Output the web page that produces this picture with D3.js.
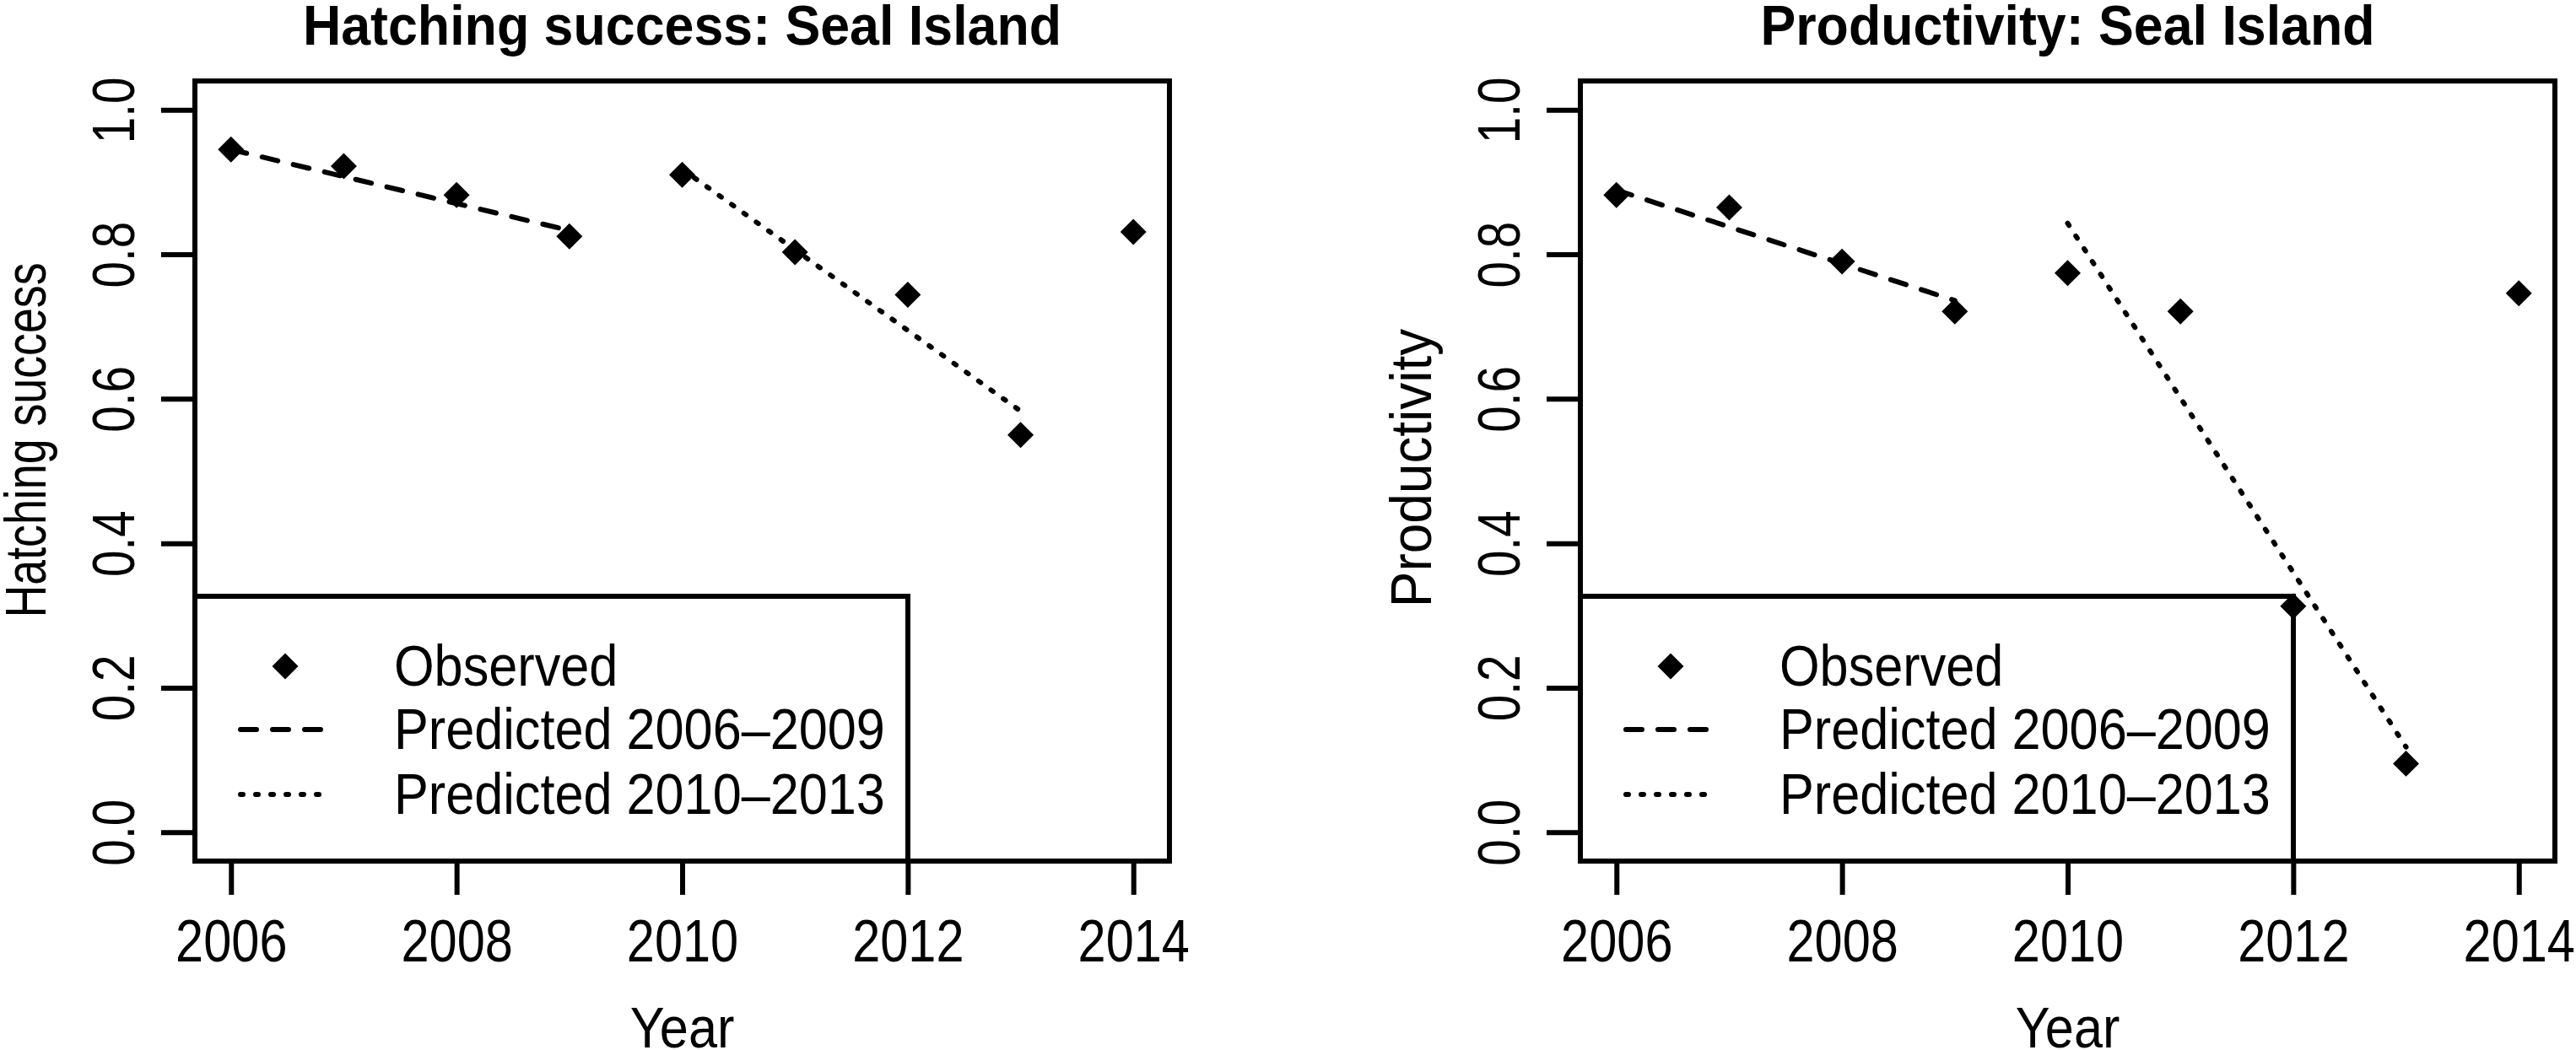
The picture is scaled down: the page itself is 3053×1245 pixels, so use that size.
<!DOCTYPE html>
<html>
<head>
<meta charset="utf-8">
<script src="https://cdn.jsdelivr.net/npm/d3@7"></script>
<style>
  body { margin: 0; background: #fff; }
  text { font-family: "Liberation Sans", Arial, sans-serif; fill: #000; }
</style>
</head>
<body>
<svg id="chart"></svg>
<script>
// values
const years = [2006, 2007, 2008, 2009, 2010, 2011, 2012, 2013, 2014]
const hatching = [0.945, 0.922, 0.882, 0.825, 0.910, 0.803, 0.744, 0.550, 0.831]
const productivity = [0.882, 0.865, 0.790, 0.721, 0.774, 0.721, 0.313, 0.095, 0.746]

// fitted trend lines, endpoints only
const fitYears1 = [2006, 2009]
const fitYears2 = [2010, 2013]
const hatchingFit1 = [0.945, 0.833]
const hatchingFit2 = [0.918, 0.583]
const productivityFit1 = [0.889, 0.736]
const productivityFit2 = [0.843, 0.118]

const xTicks = [2006, 2008, 2010, 2012, 2014]
const yTicks = [0, 0.2, 0.4, 0.6, 0.8, 1.0]
const legendLabels = ["Observed", "Predicted 2006\u20132009", "Predicted 2010\u20132013"]

const width = 3053, height = 1245
const plotTop = 96, plotBottom = 1021, plotW = 1155
const lw = 6

const panels = [
  { title: "Hatching success: Seal Island", ylab: "Hatching success", obs: hatching,
    fit1: hatchingFit1, fit2: hatchingFit2, left: 231, ylabMid: 522, ylabK: 0.79 },
  { title: "Productivity: Seal Island", ylab: "Productivity", obs: productivity,
    fit1: productivityFit1, fit2: productivityFit2, left: 1873, ylabMid: 555, ylabK: 0.94 }
]

const svg = d3.select("#chart").attr("width", width).attr("height", height)

// the original lettering is narrower than Liberation Sans, squeeze it
function squeeze(sel, k) {
  sel.each(function () {
    const w = this.getComputedTextLength()
    this.setAttribute("textLength", w * k)
    this.setAttribute("lengthAdjust", "spacingAndGlyphs")
  })
}

const diamond = d3.symbol(d3.symbolSquare, 480)

panels.forEach(p => {
  const x = d3.scaleLinear().domain([2005.68, 2014.32]).range([p.left, p.left + plotW])
  const y = d3.scaleLinear().domain([-0.04, 1.04]).range([plotBottom, plotTop])
  const g = svg.append("g")

  // y axis
  const ya = g.append("g")
    .attr("transform", `translate(${p.left},0)`)
    .call(d3.axisLeft(y).tickValues(yTicks).tickFormat(d3.format(".1f")).tickSize(40))
  ya.attr("font-family", null)
  ya.select(".domain").remove()
  ya.selectAll("line").attr("stroke-width", lw)
  ya.selectAll("text")
    .attr("transform", "rotate(-90)")
    .attr("x", 0).attr("y", -72).attr("dy", 0)
    .attr("text-anchor", "middle")
    .attr("font-size", 70)
    .call(squeeze, 0.81)

  // x axis
  const xa = g.append("g")
    .attr("transform", `translate(0,${plotBottom})`)
    .call(d3.axisBottom(x).tickValues(xTicks).tickFormat(d3.format("d")).tickSize(40))
  xa.attr("font-family", null)
  xa.select(".domain").remove()
  xa.selectAll("line").attr("stroke-width", lw)
  xa.selectAll("text")
    .attr("y", 119).attr("dy", 0)
    .attr("font-size", 70)
    .call(squeeze, 0.85)

  // plot box
  g.append("rect")
    .attr("x", p.left).attr("y", plotTop)
    .attr("width", plotW).attr("height", plotBottom - plotTop)
    .attr("fill", "none").attr("stroke", "#000").attr("stroke-width", lw)

  // titles and axis labels
  g.append("text")
    .attr("x", p.left + plotW / 2).attr("y", 53)
    .attr("text-anchor", "middle")
    .attr("font-size", 66).attr("font-weight", "bold")
    .text(p.title)
    .call(squeeze, 0.95)

  g.append("text")
    .attr("x", p.left + plotW / 2).attr("y", 1242)
    .attr("text-anchor", "middle")
    .attr("font-size", 68)
    .text("Year")
    .call(squeeze, 0.9)

  g.append("text")
    .attr("transform", `translate(${p.left - 177},${p.ylabMid}) rotate(-90)`)
    .attr("text-anchor", "middle")
    .attr("font-size", 68)
    .text(p.ylab)
    .call(squeeze, p.ylabK)

  // legend, bottom left
  const leg = g.append("g").attr("transform", `translate(${p.left},0)`)
  leg.append("rect")
    .attr("x", 0).attr("y", 707)
    .attr("width", 845).attr("height", plotBottom - 707)
    .attr("fill", "none").attr("stroke", "#000").attr("stroke-width", lw)

  const rowY = [790, 865, 942]
  leg.append("path")
    .attr("d", diamond())
    .attr("transform", `translate(107,${rowY[0]}) rotate(45)`)
  leg.append("line")
    .attr("x1", 54).attr("x2", 157).attr("y1", rowY[1]).attr("y2", rowY[1])
    .attr("stroke", "#000").attr("stroke-width", lw)
    .attr("stroke-dasharray", "19 19").attr("stroke-linecap", "round")
  leg.append("line")
    .attr("x1", 54).attr("x2", 157).attr("y1", rowY[2]).attr("y2", rowY[2])
    .attr("stroke", "#000").attr("stroke-width", lw)
    .attr("stroke-dasharray", "3 15").attr("stroke-linecap", "round")
  leg.selectAll("text.lab")
    .data(legendLabels)
    .join("text")
    .attr("class", "lab")
    .attr("x", 236)
    .attr("y", (d, i) => rowY[i] + 23)
    .attr("font-size", 68)
    .text(d => d)
    .call(squeeze, 0.9)

  // fitted lines
  const line = d3.line().x(d => x(d[0])).y(d => y(d[1]))
  g.append("path")
    .attr("d", line(d3.zip(fitYears1, p.fit1)))
    .attr("fill", "none").attr("stroke", "#000").attr("stroke-width", lw)
    .attr("stroke-dasharray", "19 19").attr("stroke-linecap", "round")
  g.append("path")
    .attr("d", line(d3.zip(fitYears2, p.fit2)))
    .attr("fill", "none").attr("stroke", "#000").attr("stroke-width", lw)
    .attr("stroke-dasharray", "3 15").attr("stroke-linecap", "round")

  // observed points
  g.append("g")
    .selectAll("path")
    .data(d3.zip(years, p.obs))
    .join("path")
    .attr("d", diamond())
    .attr("transform", d => `translate(${x(d[0])},${y(d[1])}) rotate(45)`)
})
</script>
</body>
</html>
